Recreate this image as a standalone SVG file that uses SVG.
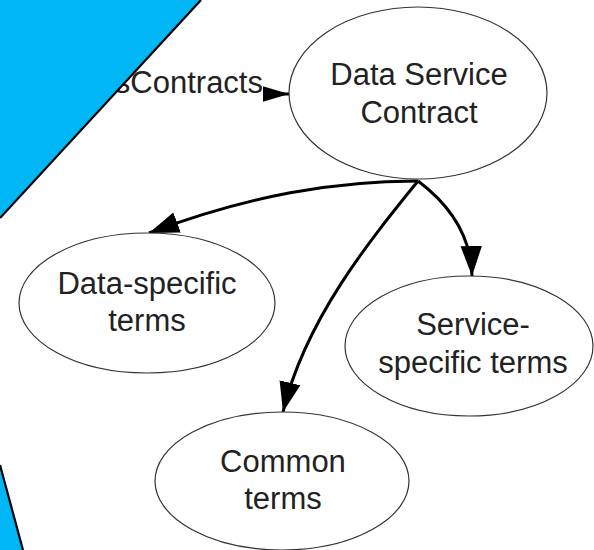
<svg xmlns="http://www.w3.org/2000/svg" width="594" height="550" viewBox="0 0 594 550">
<style>
.node ellipse{fill:#fff;stroke:#333;stroke-width:1.2}
text{font-family:"Liberation Sans",Arial,sans-serif;font-size:31px;fill:#222;text-anchor:middle}
.edge{fill:none;stroke:#000;stroke-width:3}
.blue{fill:#00b6f5}
.bl{stroke:#000;stroke-width:2.2}
</style>
<defs>
<marker id="ah" markerUnits="userSpaceOnUse" markerWidth="30" markerHeight="22" refX="28" refY="10" orient="auto" viewBox="0 0 28 20">
<path d="M0,0 L28,10 L0,20 Z" fill="#000"/>
</marker>
<marker id="ah2" markerUnits="userSpaceOnUse" markerWidth="26" markerHeight="16" refX="25" refY="7.5" orient="auto" viewBox="0 0 25 15">
<path d="M0,0 L25,7.5 L0,15 Z" fill="#000"/>
</marker>
</defs>
<rect width="594" height="550" fill="#fff"/>
<text x="263" y="93" style="text-anchor:end">sContracts</text>
<g id="connectors">
<path class="edge" d="M263,94 L289,94" stroke-width="1.5" marker-end="url(#ah2)"/>
<path class="edge" d="M418,181 C335,181 250,195 149,233" marker-end="url(#ah)"/>
<path class="edge" d="M418,181 C450,205 471,235 472,276" marker-end="url(#ah)"/>
<path class="edge" d="M418,181 C370,240 305,320 283,412" marker-end="url(#ah)"/>
</g>
<g id="dsc" class="node">
<ellipse cx="418" cy="93" rx="129" ry="86"/>
<text x="419" y="85">Data Service</text>
<text x="419" y="123">Contract</text>
</g>
<g id="dst" class="node">
<ellipse cx="147" cy="303" rx="128" ry="70"/>
<text x="147" y="294">Data-specific</text>
<text x="147" y="331">terms</text>
</g>
<g id="sst" class="node">
<ellipse cx="469" cy="346" rx="124" ry="70"/>
<text x="473" y="335">Service-</text>
<text x="473" y="373">specific terms</text>
</g>
<g id="ct" class="node">
<ellipse cx="282" cy="481" rx="127" ry="69"/>
<text x="283" y="472">Common</text>
<text x="283" y="509">terms</text>
</g>
<polygon class="blue" points="0,0 201,0 0,218"/>
<line class="bl" x1="201" y1="0" x2="0" y2="218"/>
<polygon class="blue" points="0,465 23,550 0,550"/>
<line class="bl" x1="0" y1="465" x2="23" y2="550"/>
</svg>
